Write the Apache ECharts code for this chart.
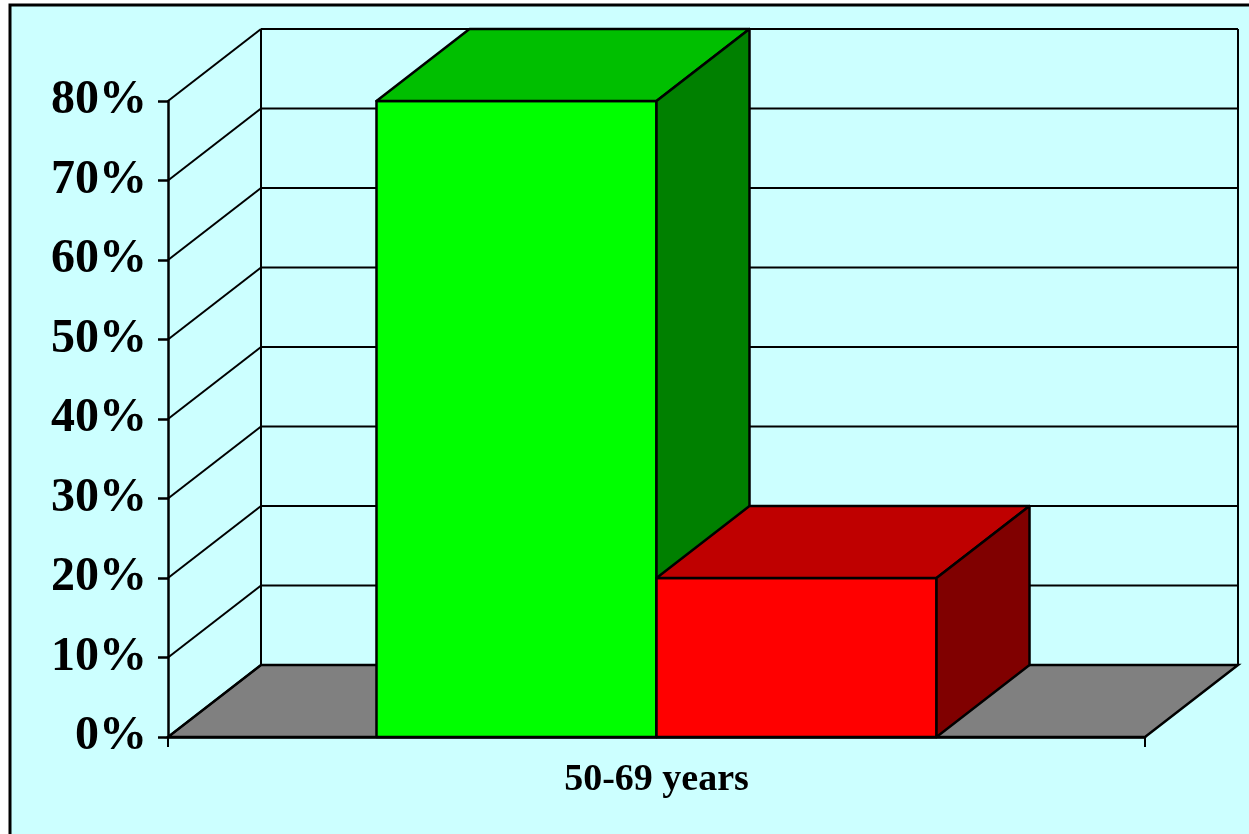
<!DOCTYPE html>
<html>
<head>
<meta charset="utf-8">
<title>50-69 years</title>
<script src="https://cdn.jsdelivr.net/npm/echarts@6/dist/echarts.min.js"></script>
<style>
  html, body { margin: 0; padding: 0; background: #fff; }
  #main { width: 1249px; height: 834px; }
</style>
</head>
<body>
<div id="main"></div>
<script>
// data
var categories = ['50-69 years'];
var greenValues = [0.80];
var redValues = [0.20];
var yTicks = [0, 0.1, 0.2, 0.3, 0.4, 0.5, 0.6, 0.7, 0.8];

// 3d look: depth offset of the back plane, in px
var DX = 93, DY = -72;
var BAR_FRAC = 0.2866;   // each bar's share of the category band

var myChart = echarts.init(document.getElementById('main'));

function wallItem(params, api) {
  var cs = params.coordSys;
  var x0 = cs.x, x1 = cs.x + cs.width;
  var y = api.coord([0, api.value(1)])[1];
  var y0 = api.coord([0, 0])[1];
  var yMax = api.coord([0, yTicks[yTicks.length - 1]])[1];
  var line = { stroke: '#000', lineWidth: 2 };
  var kids = [];
  if (params.dataIndex === 0) {
    kids.push({
      type: 'polygon',
      shape: { points: [[x0, y0], [x1, y0], [x1 + DX, y0 + DY], [x0 + DX, y0 + DY]] },
      style: { fill: '#808080', stroke: '#000', lineWidth: 2.5 }
    });
    kids.push({ type: 'line', shape: { x1: x0 + DX, y1: y0 + DY, x2: x0 + DX, y2: yMax + DY }, style: line });
    kids.push({ type: 'line', shape: { x1: x1 + DX, y1: y0 + DY, x2: x1 + DX, y2: yMax + DY }, style: line });
  }
  kids.push({ type: 'line', shape: { x1: x0 + DX, y1: y + DY, x2: x1 + DX, y2: y + DY }, style: line });
  kids.push({ type: 'line', shape: { x1: x0, y1: y, x2: x0 + DX, y2: y + DY }, style: line });
  return { type: 'group', children: kids };
}

function barRenderer(front, topc, side, offset) {
  return function (params, api) {
    var c = api.value(0);
    var base = api.coord([c, 0]);
    var top = api.coord([c, api.value(1)]);
    var bw = api.size([1, 0])[0] * BAR_FRAC;
    var x = base[0] + offset * bw;
    var yt = top[1], yb = base[1];
    var st = { stroke: '#000', lineWidth: 2.5, lineJoin: 'round' };
    return {
      type: 'group',
      children: [
        { type: 'rect', shape: { x: x, y: yt, width: bw, height: yb - yt },
          style: Object.assign({ fill: front }, st) },
        { type: 'polygon', shape: { points: [[x, yt], [x + bw, yt], [x + bw + DX, yt + DY], [x + DX, yt + DY]] },
          style: Object.assign({ fill: topc }, st) },
        { type: 'polygon', shape: { points: [[x + bw, yt], [x + bw + DX, yt + DY], [x + bw + DX, yb + DY], [x + bw, yb]] },
          style: Object.assign({ fill: side }, st) }
      ]
    };
  };
}

myChart.setOption({
  backgroundColor: '#fff',
  animation: false,
  graphic: [{
    type: 'rect', z: -100, silent: true,
    shape: { x: 10, y: 5, width: 1300, height: 900 },
    style: { fill: '#CCFFFF', stroke: '#000', lineWidth: 3 }
  }],
  grid: { left: 168, top: 101, width: 977, height: 636, outerBoundsMode: 'none' },
  xAxis: {
    type: 'category',
    data: categories,
    axisLine: { lineStyle: { color: '#000', width: 2.5 } },
    axisTick: { show: true, length: 10, lineStyle: { color: '#000', width: 2 } },
    axisLabel: {
      color: '#000', fontFamily: 'Liberation Serif, Times New Roman, serif',
      fontWeight: 'bold', fontSize: 38, margin: 24
    },
    splitLine: { show: false }
  },
  yAxis: {
    type: 'value', min: 0, max: 0.8, interval: 0.1,
    axisLine: { show: true, lineStyle: { color: '#000', width: 2.5 } },
    axisTick: { show: true, length: 10, lineStyle: { color: '#000', width: 2.5 } },
    axisLabel: {
      color: '#000', fontFamily: 'Liberation Serif, Times New Roman, serif',
      fontWeight: 'bold', fontSize: 48, margin: 21,
      formatter: function (v) { return Math.round(v * 100) + '%'; }
    },
    splitLine: { show: false }
  },
  series: [
    {
      name: 'walls', type: 'custom', z: 1, silent: true,
      data: yTicks.map(function (t) { return [0, t]; }),
      renderItem: wallItem
    },
    {
      name: 'Series 1', type: 'custom', z: 3,
      data: greenValues.map(function (v, i) { return [i, v]; }),
      renderItem: barRenderer('#00FF00', '#00BF00', '#008000', -1)
    },
    {
      name: 'Series 2', type: 'custom', z: 4,
      data: redValues.map(function (v, i) { return [i, v]; }),
      renderItem: barRenderer('#FF0000', '#BF0000', '#800000', 0)
    }
  ]
});
</script>
</body>
</html>
